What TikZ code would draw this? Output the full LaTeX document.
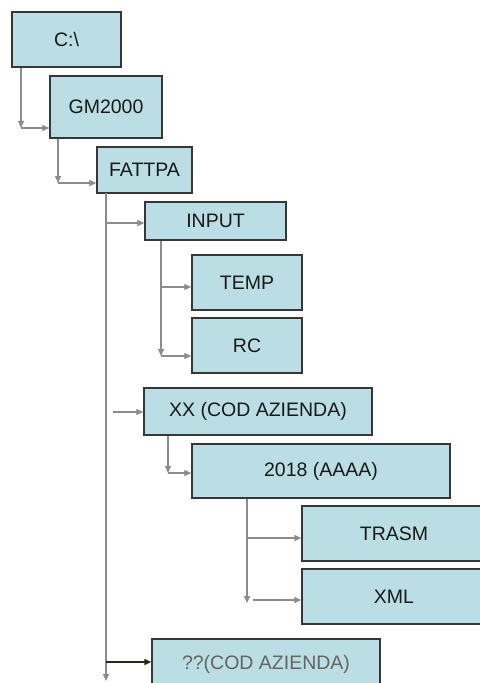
\documentclass[tikz,border=0pt]{standalone}
\usepackage{fontspec}
\setmainfont{Liberation Sans}
\usetikzlibrary{arrows.meta,calc}
\definecolor{boxfill}{RGB}{186,222,228}
\definecolor{boxline}{RGB}{55,55,55}
\definecolor{connc}{RGB}{140,140,140}
\definecolor{darkconn}{RGB}{40,40,20}
\definecolor{greytext}{RGB}{100,100,100}
\tikzset{
  dirbox/.style={draw=boxline, line width=1.4bp, fill=boxfill, rectangle, inner sep=0pt,
    font=\fontsize{19.5bp}{23bp}\selectfont, text=black!90},
  conn/.style={draw=connc, line width=1.3bp, -{Triangle[length=7bp,width=6bp]}},
}
\newcommand{\mkbox}[6]{% name, x1,y1,x2,y2, text
  \node[dirbox, minimum width={(#4-#2)*1bp}, minimum height={(#5-#3)*1bp}] (#1) at ({(#2+#4)/2},{(#3+#5)/2}) {#6};}
\begin{document}
\begin{tikzpicture}[x=1bp,y=-1bp]
\useasboundingbox (0,0) rectangle (480,683);
\clip (0,0) rectangle (480,683);
\fill[white] (0,0) rectangle (480,683);
% boxes
\mkbox{C}{12}{12}{121}{67}{C:\textbackslash}
\mkbox{GM}{50}{76}{162}{138}{GM2000}
\mkbox{FA}{97}{147}{192}{193}{FATTPA}
\mkbox{IN}{145}{202}{286}{240}{INPUT}
\mkbox{TE}{192}{255}{302}{310}{TEMP}
\mkbox{RC}{192}{318}{302}{373}{RC}
\mkbox{XX}{144}{388}{372}{435}{XX (COD AZIENDA)}
\mkbox{YR}{192}{444}{450}{498}{2018 (AAAA)}
\mkbox{TR}{302}{506}{486}{561}{TRASM}
\mkbox{XM}{302}{569}{486}{624}{XML}
\node[dirbox, text=greytext, minimum width=228bp, minimum height=50bp] (QQ) at (266,664) {??(COD AZIENDA)};
% junction coordinates
\coordinate (j1) at (21,128);
\coordinate (j2) at (58,183);
\coordinate (mtop) at (106,193);
\coordinate (mbot) at (106,681);
\coordinate (bIN) at (106,223);
\coordinate (bXX) at (113,412);
\coordinate (bQQ) at (106,662);
\coordinate (j3) at (161,356);
\coordinate (bTE) at (161,287);
\coordinate (j4) at (168,473);
\coordinate (j5) at (247,603);
\coordinate (bTR) at (248,538);
\coordinate (bXM) at (253,600);
% connectors
\draw[conn] (C.south -| j1) -- (j1);
\draw[conn] (j1) -- (j1 -| GM.west);
\draw[conn] (GM.south -| j2) -- (j2);
\draw[conn] (j2) -- (j2 -| FA.west);
\draw[conn] (mtop) -- (mbot);
\draw[conn] (bIN) -- (bIN -| IN.west);
\draw[conn] (bXX) -- (bXX -| XX.west);
\draw[conn, draw=darkconn, line width=1.5bp] (bQQ) -- (bQQ -| QQ.west);
\draw[conn] (IN.south -| j3) -- (j3);
\draw[conn] (bTE) -- (bTE -| TE.west);
\draw[conn] (j3) -- (j3 -| RC.west);
\draw[conn] (XX.south -| j4) -- (j4);
\draw[conn] (j4) -- (j4 -| YR.west);
\draw[conn] (YR.south -| j5) -- (j5);
\draw[conn] (bTR) -- (bTR -| TR.west);
\draw[conn] (bXM) -- (bXM -| XM.west);
\end{tikzpicture}
\end{document}
